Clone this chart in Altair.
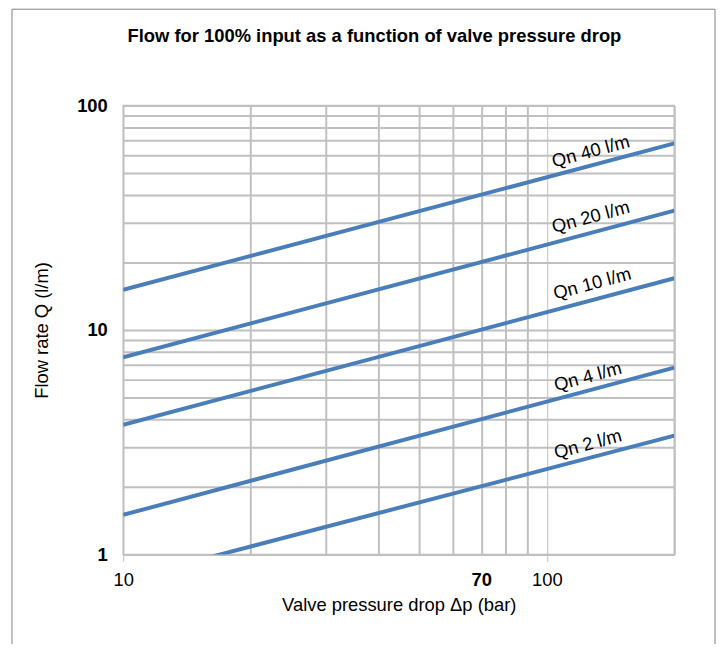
import altair as alt
import pandas as pd

# ---- data ----
series = ["Qn 40 l/m", "Qn 20 l/m", "Qn 10 l/m", "Qn 4 l/m", "Qn 2 l/m"]
dp_start = [10, 10, 10, 10, 10]
dp_end = [200, 200, 200, 200, 200]
q_start = [15.1, 7.55, 3.78, 1.5, 0.77]
q_end = [67.8, 34.0, 17.0, 6.8, 3.38]

label_dp = [127, 127, 128, 125, 125]
label_q = [62.5, 31.9, 16.1, 6.2, 3.1]

x_grid = [10, 20, 30, 40, 50, 60, 70, 80, 90, 100, 200]
y_grid = [1, 2, 3, 4, 5, 6, 7, 8, 9, 10, 20, 30, 40, 50, 60, 70, 80, 90, 100]

title_text = "Flow for 100% input as a function of valve pressure drop"
x_title = "Valve pressure drop \u0394p (bar)"
y_title = "Flow rate Q (l/m)"

FONT = "Liberation Sans, Arial, sans-serif"
BLUE = "#4a7ebb"
GRID = "#c0c0c0"
FS = 18.5

rows = []
for s, a, b, qa, qb in zip(series, dp_start, dp_end, q_start, q_end):
    rows.append({"series": s, "dp": a, "Q": qa})
    rows.append({"series": s, "dp": b, "Q": qb})
lines_df = pd.DataFrame(rows)
labels_df = pd.DataFrame({"label": series, "dp": label_dp, "Q": label_q})
one = pd.DataFrame({"t": [title_text]})

xscale = alt.Scale(type="log", domain=[10, 200], nice=False)
yscale = alt.Scale(type="log", domain=[1, 100], nice=False)

major_x = "datum.value == 10 || datum.value == 100"

x_axis = alt.Axis(
    values=x_grid,
    title=x_title,
    labelExpr="(datum.value == 10 || datum.value == 70 || datum.value == 100) ? toString(datum.value) : ''",
    labelFontWeight={"condition": {"test": "datum.value == 70", "value": "bold"}, "value": "normal"},
    labelFlush=False,
    labelOverlap=False,
    labelFontSize=FS,
    labelFont=FONT,
    labelColor="#000000",
    labelPadding={"condition": {"test": major_x, "value": 9}, "value": 16},
    tickSize={"condition": {"test": major_x, "value": 7}, "value": 0},
    tickColor=GRID,
    tickWidth=1,
    gridColor=GRID,
    gridWidth={"condition": {"test": major_x, "value": 1}, "value": 2},
    domainColor=GRID,
    domainWidth=1.5,
    titleFont=FONT,
    titleFontSize=FS,
    titleFontWeight="normal",
    titleColor="#000000",
    titlePadding=7,
)

y_axis = alt.Axis(
    values=y_grid,
    title=y_title,
    labelExpr="(datum.value == 1 || datum.value == 10 || datum.value == 100) ? toString(datum.value) : ''",
    labelFontWeight="bold",
    labelFlush=False,
    labelOverlap=False,
    labelFontSize=FS,
    labelFont=FONT,
    labelColor="#000000",
    labelPadding=16,
    labelBaseline="middle",
    ticks=False,
    gridColor=GRID,
    gridWidth=2,
    domainColor=GRID,
    domainWidth=1.5,
    titleFont=FONT,
    titleFontSize=FS,
    titleFontWeight="normal",
    titleColor="#000000",
    titlePadding=25,
)

lines = alt.Chart(lines_df).mark_line(color=BLUE, strokeWidth=4, clip=True).encode(
    x=alt.X("dp:Q", scale=xscale, axis=x_axis),
    y=alt.Y("Q:Q", scale=yscale, axis=y_axis),
    detail="series:N",
)

labels = alt.Chart(labels_df).mark_text(
    angle=345, font=FONT, fontSize=FS, color="#000000", baseline="middle", align="center"
).encode(
    x=alt.X("dp:Q", scale=xscale),
    y=alt.Y("Q:Q", scale=yscale),
    text="label:N",
)

frame = alt.Chart(one).mark_rect(
    fillOpacity=0, stroke="#808080", strokeWidth=1
).encode(
    x=alt.value(-112), x2=alt.value(596), y=alt.value(-97), y2=alt.value(600)
)

title = alt.Chart(one).mark_text(
    font=FONT, fontSize=18.5, fontWeight="bold", color="#000000", baseline="middle", align="center"
).encode(
    x=alt.value(253), y=alt.value(-70), text="t:N"
)

chart = alt.layer(frame, lines, labels, title).properties(
    width=555,
    height=452,
    autosize=alt.AutoSizeParams(type="none"),
    padding={"left": 116, "top": 96, "right": 45, "bottom": 88},
).configure_view(stroke=GRID, strokeWidth=1.5)

chart.save("out.html", embed_options={"renderer": "svg", "actions": False})
